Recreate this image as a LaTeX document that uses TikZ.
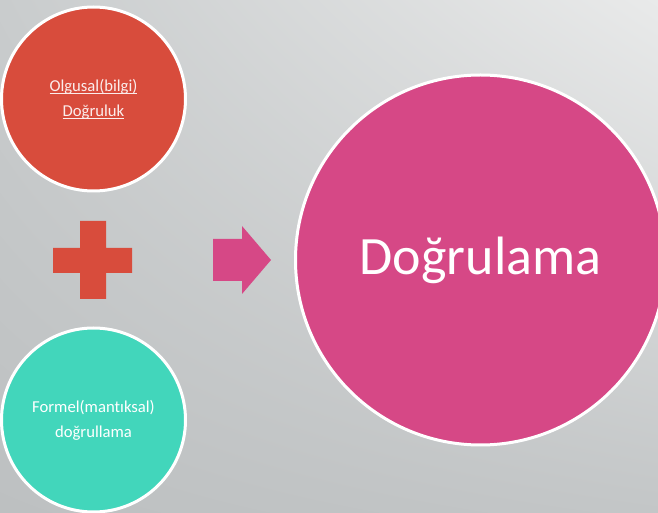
\documentclass[tikz,border=0pt]{standalone}
\usepackage{fontspec}
\setmainfont{Carlito}[Ligatures=NoCommon]
\usetikzlibrary{calc,shadings}
\definecolor{bgtl}{HTML}{C9CCCD}
\definecolor{bgtr}{HTML}{E9EAEA}
\definecolor{bgbl}{HTML}{BDC0C1}
\definecolor{bgbr}{HTML}{C3C6C7}
\definecolor{tomato}{HTML}{D84C3C}
\definecolor{mint}{HTML}{42D6BB}
\definecolor{rose}{HTML}{D64886}
\newcommand\linkul[1]{\setbox0\hbox{#1}\rlap{\rule[-1.6pt]{\wd0}{0.55pt}}\box0}
\tikzset{bubble/.style={circle,draw=white,line width=2.25pt,minimum size=138pt,
align=center,text=white,font=\fontsize{12.5}{18.75}\selectfont},
bigbubble/.style={bubble,minimum size=277.5pt,font=\fontsize{40.5}{48}\selectfont}}
\begin{document}
\begin{tikzpicture}[x=0.75pt,y=-0.75pt]
\useasboundingbox (0,0) rectangle (658,513);
\shade[upper left=bgtl,upper right=bgtr,lower left=bgbl,lower right=bgbr] (0,0) rectangle (658,513);
\node[bubble,fill=tomato,text=white!90!tomato] (fact) at (93.5,99) {\linkul{Olgusal(bilgi)}\\\linkul{Doğruluk}};
\node[bubble,fill=mint] (formal) at (93.5,420) {Formel(mantıksal)\\doğrullama};
\node[bigbubble,fill=rose] (verify) at (480.5,260) {Doğrulama};
% plus sign
\fill[tomato] (53,248) -- (80,248) -- (80,221) -- (106,221) -- (106,248) -- (132,248)
-- (132,273) -- (106,273) -- (106,299) -- (80,299) -- (80,273) -- (53,273) -- cycle;
% arrow
\fill[rose] (213,239) -- (242,239) -- (242,226) -- (271,260) -- (242,294) -- (242,281)
-- (213,281) -- cycle;
\end{tikzpicture}
\end{document}
